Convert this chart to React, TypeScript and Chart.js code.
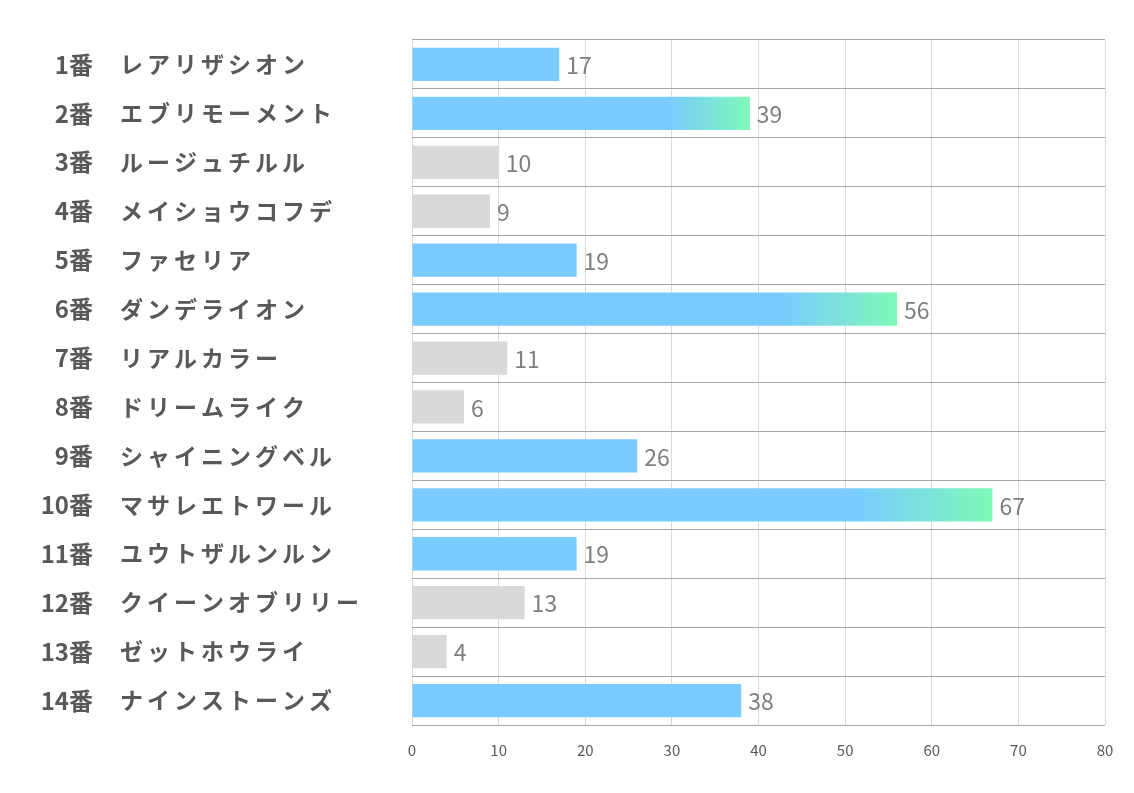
import React, { useEffect, useRef } from "react";
import { Chart, registerables } from "chart.js";

Chart.register(...registerables);

const numbers = ["1番", "2番", "3番", "4番", "5番", "6番", "7番", "8番", "9番", "10番", "11番", "12番", "13番", "14番"];
const names = [
  "レアリザシオン",
  "エブリモーメント",
  "ルージュチルル",
  "メイショウコフデ",
  "ファセリア",
  "ダンデライオン",
  "リアルカラー",
  "ドリームライク",
  "シャイニングベル",
  "マサレエトワール",
  "ユウトザルンルン",
  "クイーンオブリリー",
  "ゼットホウライ",
  "ナインストーンズ",
];
const values = [17, 39, 10, 9, 19, 56, 11, 6, 26, 67, 19, 13, 4, 38];
// kind of bar: "top" = gradient, "mark" = blue, "other" = gray
const kinds = ["mark", "top", "other", "other", "mark", "top", "other", "other", "mark", "top", "mark", "other", "other", "mark"];
const xTicks = [0, 10, 20, 30, 40, 50, 60, 70, 80];

const BLUE = "#7ACBFF";
const GREEN = "#7FF9B8";
const GRAY = "#D9D9D9";

export default function App() {
  const ref = useRef<HTMLCanvasElement | null>(null);
  useEffect(() => {
    const canvas = ref.current;
    if (!canvas) return;

    const labelPlugin = {
      id: "labels",
      afterDatasetsDraw(chart: any) {
        const ctx = chart.ctx;
        const meta = chart.getDatasetMeta(0);
        ctx.save();
        ctx.font = '23px "Noto Sans CJK JP"';
        ctx.fillStyle = "#7F7F7F";
        ctx.textAlign = "left";
        ctx.textBaseline = "middle";
        meta.data.forEach((el: any, i: number) => {
          ctx.fillText(String(values[i]), el.x + 7, el.y + 1);
        });
        ctx.restore();
      },
      afterDraw(chart: any) {
        const ctx = chart.ctx;
        const y = chart.scales.y;
        ctx.save();
        ctx.fillStyle = "#595959";
        ctx.textBaseline = "middle";
        numbers.forEach((n, i) => {
          const py = y.getPixelForValue(i);
          ctx.font = 'bold 24px "Noto Sans CJK JP"';
          ctx.textAlign = "right";
          (ctx as any).letterSpacing = "0px";
          ctx.fillText(n, 93, py);
          ctx.font = 'bold 23px "Noto Sans CJK JP"';
          ctx.textAlign = "left";
          (ctx as any).letterSpacing = "4px";
          ctx.fillText(names[i], 120, py);
          (ctx as any).letterSpacing = "0px";
        });
        ctx.restore();
      },
    };

    const chart = new Chart(canvas, {
      type: "bar",
      data: {
        labels: names,
        datasets: [
          {
            data: values,
            backgroundColor: (c: any) => {
              const k = kinds[c.dataIndex];
              if (k === "other") return GRAY;
              if (k === "mark") return BLUE;
              const xs = c.chart.scales && c.chart.scales.x;
              if (!xs || !c.chart.chartArea) return BLUE;
              const v = values[c.dataIndex];
              const x0 = xs.getPixelForValue(v * 0.76);
              const x1 = xs.getPixelForValue(v);
              const g = c.chart.ctx.createLinearGradient(x0, 0, x1, 0);
              g.addColorStop(0, BLUE);
              g.addColorStop(1, GREEN);
              return g;
            },
            borderWidth: 0,
            barPercentage: 0.68,
            categoryPercentage: 1,
          },
        ],
      },
      options: {
        indexAxis: "y",
        animation: false,
        responsive: false,
        maintainAspectRatio: false,
        layout: { padding: { left: 412, top: 40, right: 29, bottom: 0 } },
        plugins: { legend: { display: false }, tooltip: { enabled: false } },
        scales: {
          x: {
            min: 0,
            max: 80,
            afterBuildTicks: (s: any) => {
              s.ticks = xTicks.map((v) => ({ value: v }));
            },
            grid: { color: "#D9D9D9", drawTicks: false, lineWidth: 1 },
            border: { display: false },
            ticks: {
              color: "#595959",
              font: { size: 15, family: '"Noto Sans CJK JP"' },
              padding: 16,
            },
            afterFit: (s: any) => {
              s.height = 68;
            },
          },
          y: {
            grid: { offset: true, color: "#A6A6A6", drawTicks: false, lineWidth: 1 },
            border: { display: false },
            ticks: { display: false },
            afterFit: (s: any) => {
              s.width = 0;
            },
          },
        },
      },
      plugins: [labelPlugin],
    });
    return () => chart.destroy();
  }, []);

  return (
    <div style={{ position: "fixed", left: 0, top: 0, width: 1134, height: 793, background: "#fff" }}>
      <canvas ref={ref} width={1134} height={793} style={{ width: 1134, height: 793 }} />
    </div>
  );
}
